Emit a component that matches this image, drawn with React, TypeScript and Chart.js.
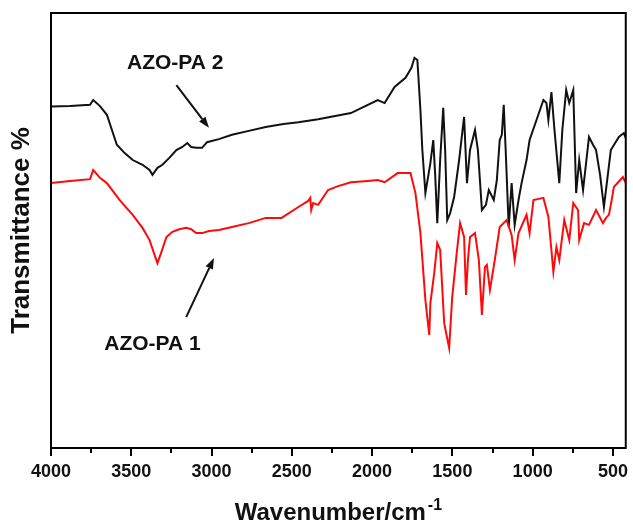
import React, { useEffect, useRef } from "react";
import { Chart, registerables } from "chart.js";

Chart.register(...registerables);

// ---- Data (wavenumber in cm^-1, transmittance in arbitrary %) ----
const X_MIN = 420;
const X_MAX = 4000;
const X_STEP = 250;
const X_LABEL_STEP = 500;

const wavenumbers2 = [4000, 3881, 3757, 3737, 3695, 3652, 3590, 3541, 3491, 3430, 3386, 3368, 3337, 3306, 3263, 3219, 3182, 3151, 3127, 3096, 3059, 3028, 2954, 2873, 2768, 2663, 2552, 2459, 2336, 2132, 1965, 1922, 1860, 1792, 1755, 1736, 1718, 1699, 1687, 1668, 1637, 1619, 1607, 1594, 1576, 1557, 1545, 1532, 1514, 1489, 1458, 1427, 1409, 1390, 1359, 1341, 1316, 1291, 1273, 1242, 1223, 1205, 1192, 1180, 1168, 1149, 1131, 1112, 1088, 1069, 1038, 1019, 976, 933, 914, 902, 883, 864, 834, 815, 791, 772, 747, 729, 710, 686, 649, 624, 605, 580, 556, 513, 463, 432, 420];
const transmittance2 = [78.5, 78.6, 78.9, 80.0, 78.6, 76.6, 69.7, 67.8, 66.2, 65.1, 63.9, 62.8, 64.4, 65.1, 66.7, 68.5, 69.2, 70.1, 69.2, 69.0, 69.0, 70.3, 71.0, 72.0, 72.9, 73.8, 74.5, 74.9, 75.6, 77.0, 80.0, 79.3, 83.0, 85.1, 87.4, 89.7, 89.2, 77.7, 68.5, 58.6, 65.5, 70.8, 62.8, 51.7, 66.2, 78.2, 68.5, 52.4, 54.0, 57.7, 66.2, 76.1, 60.9, 68.5, 73.1, 68.5, 54.7, 55.9, 59.3, 57.0, 61.6, 70.8, 72.0, 78.9, 68.5, 50.8, 60.9, 51.3, 57.0, 60.9, 66.2, 70.8, 75.4, 80.0, 79.3, 75.4, 81.8, 73.1, 60.9, 73.1, 82.3, 79.3, 82.3, 58.6, 66.2, 59.3, 71.5, 69.7, 68.5, 62.8, 55.4, 68.5, 71.5, 72.4, 71.3];

const wavenumbers1 = [4000, 3881, 3757, 3737, 3695, 3652, 3572, 3491, 3430, 3386, 3355, 3337, 3312, 3281, 3244, 3201, 3158, 3127, 3096, 3059, 3016, 2954, 2873, 2768, 2663, 2564, 2459, 2398, 2385, 2379, 2367, 2336, 2274, 2212, 2132, 2027, 1965, 1922, 1841, 1761, 1730, 1699, 1668, 1644, 1637, 1613, 1594, 1576, 1551, 1520, 1501, 1471, 1452, 1427, 1415, 1403, 1390, 1359, 1335, 1316, 1297, 1285, 1266, 1236, 1205, 1162, 1131, 1112, 1088, 1038, 1019, 995, 933, 902, 883, 871, 852, 834, 803, 772, 747, 717, 710, 680, 649, 605, 562, 543, 525, 513, 494, 438, 420];
const transmittance1 = [60.9, 61.4, 61.8, 63.9, 62.1, 60.9, 57.0, 53.6, 50.6, 47.8, 44.4, 42.5, 45.1, 48.5, 49.7, 50.3, 50.6, 50.3, 49.4, 49.4, 49.9, 50.1, 50.8, 51.7, 52.9, 52.9, 55.4, 56.8, 57.5, 54.7, 56.3, 55.9, 59.3, 60.2, 61.1, 61.4, 61.6, 61.1, 63.2, 63.2, 58.6, 49.4, 34.0, 26.0, 33.3, 40.2, 47.1, 45.5, 28.7, 23.0, 34.7, 45.5, 51.7, 48.5, 35.2, 43.2, 48.5, 49.4, 43.2, 30.6, 41.6, 42.1, 36.3, 43.2, 50.8, 52.4, 49.0, 43.2, 49.4, 53.6, 49.4, 57.0, 57.5, 53.1, 45.5, 40.5, 46.2, 43.2, 52.4, 47.8, 56.3, 54.7, 47.8, 51.7, 51.3, 54.7, 51.7, 52.9, 53.6, 55.9, 60.0, 62.3, 60.9];

const seriesNames = ["AZO-PA 1", "AZO-PA 2"];
const labelPositions = [
  { x: 3368, y: 23.9 },
  { x: 3226, y: 88.5 },
];
const arrowStarts = [
  { x: 3158, y: 30.1 },
  { x: 3219, y: 83.4 },
];
const arrowEnds = [
  { x: 2985, y: 43.7 },
  { x: 3016, y: 73.6 },
];

const FONT = "'Liberation Sans', Arial, Helvetica, sans-serif";

const decorPlugin = {
  id: "decor",
  afterDraw(chart: any) {
    const { ctx, chartArea, scales } = chart;
    const xs = scales.x;
    const ys = scales.y;
    ctx.save();
    // frame
    ctx.strokeStyle = "#000";
    ctx.lineWidth = 2;
    ctx.strokeRect(chartArea.left, chartArea.top, chartArea.right - chartArea.left, chartArea.bottom - chartArea.top);
    // ticks
    ctx.lineWidth = 2;
    for (let v = 500; v <= X_MAX; v += X_STEP) {
      const px = Math.round(xs.getPixelForValue(v));
      const len = v % X_LABEL_STEP === 0 ? 8 : 5;
      ctx.beginPath();
      ctx.moveTo(px, chartArea.bottom);
      ctx.lineTo(px, chartArea.bottom + len);
      ctx.stroke();
    }
    // annotations
    ctx.fillStyle = "#111";
    ctx.font = `bold 21px ${FONT}`;
    ctx.textAlign = "center";
    ctx.textBaseline = "middle";
    seriesNames.forEach((name, i) => {
      ctx.fillText(name, xs.getPixelForValue(labelPositions[i].x), ys.getPixelForValue(labelPositions[i].y));
    });
    ctx.strokeStyle = "#111";
    ctx.lineWidth = 2;
    arrowStarts.forEach((s, i) => {
      const x0 = xs.getPixelForValue(s.x);
      const y0 = ys.getPixelForValue(s.y);
      const x1 = xs.getPixelForValue(arrowEnds[i].x);
      const y1 = ys.getPixelForValue(arrowEnds[i].y);
      const ang = Math.atan2(y1 - y0, x1 - x0);
      const hl = 11;
      const hw = 4;
      const bx = x1 - hl * Math.cos(ang);
      const by = y1 - hl * Math.sin(ang);
      ctx.beginPath();
      ctx.moveTo(x0, y0);
      ctx.lineTo(bx, by);
      ctx.stroke();
      ctx.beginPath();
      ctx.moveTo(x1, y1);
      ctx.lineTo(bx + hw * Math.sin(ang), by - hw * Math.cos(ang));
      ctx.lineTo(bx - hw * Math.sin(ang), by + hw * Math.cos(ang));
      ctx.closePath();
      ctx.fill();
    });
    // x axis title with superscript
    const main = "Wavenumber/cm";
    const sup = "-1";
    ctx.font = `bold 24px ${FONT}`;
    const wMain = ctx.measureText(main).width;
    ctx.font = `bold 16px ${FONT}`;
    const wSup = ctx.measureText(sup).width;
    const cx = (chartArea.left + chartArea.right) / 2;
    const startX = cx - (wMain + wSup + 2) / 2;
    const baseY = 520;
    ctx.textAlign = "left";
    ctx.textBaseline = "alphabetic";
    ctx.fillStyle = "#111";
    ctx.font = `bold 24px ${FONT}`;
    ctx.fillText(main, startX, baseY);
    ctx.font = `bold 16px ${FONT}`;
    ctx.fillText(sup, startX + wMain + 2, baseY - 10);
    ctx.restore();
  },
};

export default function App() {
  const canvasRef = useRef<HTMLCanvasElement | null>(null);

  useEffect(() => {
    if (!canvasRef.current) return;
    const data1 = wavenumbers1.map((x, i) => ({ x, y: transmittance1[i] }));
    const data2 = wavenumbers2.map((x, i) => ({ x, y: transmittance2[i] }));
    const chart = new Chart(canvasRef.current, {
      type: "line",
      data: {
        datasets: [
          { label: seriesNames[0], data: data1, borderColor: "#ff0a0a", borderWidth: 2, pointRadius: 0, tension: 0, fill: false },
          { label: seriesNames[1], data: data2, borderColor: "#111", borderWidth: 2, pointRadius: 0, tension: 0, fill: false },
        ],
      },
      options: {
        responsive: false,
        animation: false,
        maintainAspectRatio: false,
        layout: { padding: { top: 13, right: 3, left: 0, bottom: 0 } },
        plugins: { legend: { display: false }, tooltip: { enabled: false } },
        scales: {
          x: {
            type: "linear",
            reverse: true,
            min: X_MIN,
            max: X_MAX,
            afterFit: (s: any) => { s.height = 78; },
            grid: { display: true, drawOnChartArea: false, drawTicks: true, tickLength: 8, tickColor: "rgba(0,0,0,0)", color: "rgba(0,0,0,0)" },
            border: { display: false },
            ticks: {
              stepSize: X_STEP,
              includeBounds: false,
              autoSkip: false,
              maxRotation: 0,
              padding: 5,
              color: "#111",
              font: { family: FONT, size: 18, weight: "bold" },
              callback: (v: any) => (Number(v) % X_LABEL_STEP === 0 ? String(v) : ""),
            },
            title: { display: false },
          },
          y: {
            type: "linear",
            min: 0,
            max: 100,
            afterFit: (s: any) => { s.width = 51; },
            grid: { display: false },
            border: { display: false },
            ticks: { display: false },
            title: {
              display: true,
              text: "Transmittance %",
              color: "#111",
              font: { family: FONT, size: 26, weight: "bold" },
              padding: { top: 6, bottom: 0 },
            },
          },
        },
      },
      plugins: [decorPlugin],
    } as any);
    return () => chart.destroy();
  }, []);

  return (
    <div style={{ position: "fixed", left: 0, top: 0, width: 633, height: 526, background: "#fff" }}>
      <canvas ref={canvasRef} width={633} height={526} style={{ display: "block" }} />
    </div>
  );
}
